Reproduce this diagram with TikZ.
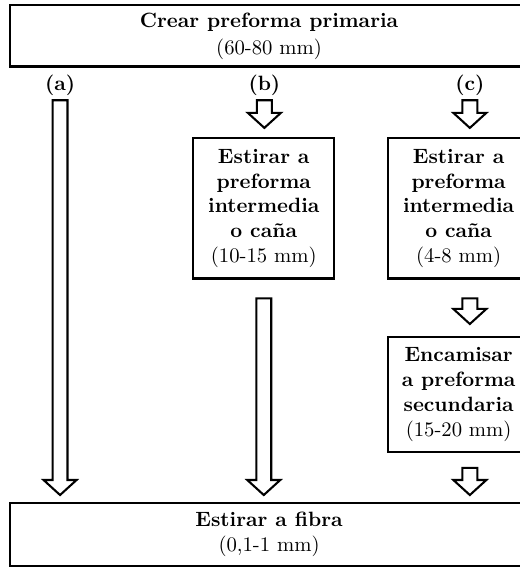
\documentclass[tikz,border=0pt]{standalone}
\usepackage{tikz}
\usetikzlibrary{calc}

\tikzset{
caja/.style={draw, line width=1pt, align=center, inner sep=0pt, font=\bfseries},
etiqueta/.style={font=\bfseries, inner sep=1pt},
flecha/.style={draw, fill=white, line width=1pt, to path={let \p1=(\tikztostart), \p2=(\tikztotarget) in (\x1-0.127cm,\y1) -- (\x1+0.127cm,\y1) -- (\x1+0.127cm,\y2+0.255cm) -- (\x1+0.28cm,\y2+0.255cm) -- (\x1,\y2) -- (\x1-0.28cm,\y2+0.255cm) -- (\x1-0.127cm,\y2+0.255cm) -- cycle}}
}

\begin{document}
\begin{tikzpicture}
\useasboundingbox (0,0) rectangle (8.83,9.63);
\clip (0,0) rectangle (8.83,9.63);

\node[caja, minimum width=8.79cm, minimum height=1.04cm] (inicio) at (4.57,9.02) {Crear preforma primaria\\[1pt]{\mdseries (60-80 mm)}};

\node[caja, minimum width=8.79cm, minimum height=1.07cm] (fin) at (4.57,0.55) {Estirar a fibra\\{\mdseries (0,1-1 mm)}};

\node[etiqueta] (etqa) at (1.02,8.18) {(a)};
\node[etiqueta] (etqb) at (4.49,8.18) {(b)};
\node[etiqueta] (etqc) at (7.98,8.18) {(c)};

\node[caja, minimum width=2.39cm, minimum height=2.38cm] (cajab) at (4.48,6.09) {Estirar a\\preforma\\intermedia\\o caña\\{\mdseries (10-15 mm)}};
\node[caja, minimum width=2.39cm, minimum height=2.38cm] (cajac) at (7.79,6.09) {Estirar a\\preforma\\intermedia\\o caña\\{\mdseries (4-8 mm)}};

\node[caja, minimum width=2.39cm, minimum height=1.95cm] (cajad) at (7.79,2.93) {Encamisar\\a preforma\\secundaria\\{\mdseries (15-20 mm)}};

% flechas huecas de cada camino
\draw[flecha] ([yshift=-1pt]etqa.south) to ([yshift=0.12cm]fin.north);

\draw[flecha] ([yshift=-1pt]etqb.south) to ([yshift=0.16cm]cajab.north);
\draw[flecha] ([yshift=-0.32cm]cajab.south) to ([yshift=0.12cm]fin.north);

\draw[flecha] ([yshift=-1pt]etqc.south) to ([yshift=0.16cm]cajac.north);
\draw[flecha] ($(cajac.south -| etqc)+(0,-0.32)$) to ([yshift=0.205cm]cajad.north);
\draw[flecha] ($(cajad.south -| etqc)+(0,-0.255)$) to ([yshift=0.12cm]fin.north);
\end{tikzpicture}
\end{document}
